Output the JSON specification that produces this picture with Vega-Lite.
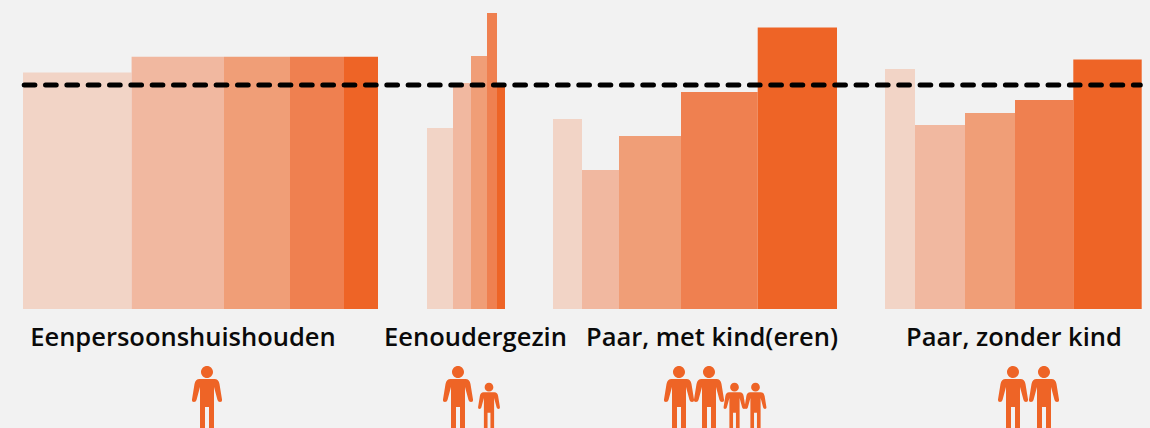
{"$schema":"https://vega.github.io/schema/vega-lite/v6.json","width":1150,"height":428,"autosize":{"type":"fit","contains":"padding"},"padding":0,"background":"#F2F2F2","config":{"view":{"stroke":null}},
"datasets":{"bars":[
{"group":"Eenpersoonshuishouden","step":1,"x0":23,"x1":131.6,"value":236.4},
{"group":"Eenpersoonshuishouden","step":2,"x0":131.6,"x1":224,"value":252.3},
{"group":"Eenpersoonshuishouden","step":3,"x0":224,"x1":290,"value":252.3},
{"group":"Eenpersoonshuishouden","step":4,"x0":290,"x1":344,"value":252.3},
{"group":"Eenpersoonshuishouden","step":5,"x0":344,"x1":378,"value":252.3},
{"group":"Eenoudergezin","step":1,"x0":427,"x1":453,"value":181},
{"group":"Eenoudergezin","step":2,"x0":453,"x1":471,"value":226},
{"group":"Eenoudergezin","step":3,"x0":471,"x1":487,"value":253},
{"group":"Eenoudergezin","step":4,"x0":487,"x1":497,"value":296},
{"group":"Eenoudergezin","step":5,"x0":497,"x1":505,"value":223},
{"group":"Paar, met kind(eren)","step":1,"x0":553,"x1":582,"value":190},
{"group":"Paar, met kind(eren)","step":2,"x0":582,"x1":619,"value":139},
{"group":"Paar, met kind(eren)","step":3,"x0":619,"x1":681,"value":173},
{"group":"Paar, met kind(eren)","step":4,"x0":681,"x1":757.7,"value":217},
{"group":"Paar, met kind(eren)","step":5,"x0":757.7,"x1":837,"value":281.4},
{"group":"Paar, zonder kind","step":1,"x0":885,"x1":915,"value":240},
{"group":"Paar, zonder kind","step":2,"x0":915,"x1":965,"value":184},
{"group":"Paar, zonder kind","step":3,"x0":965,"x1":1015,"value":196},
{"group":"Paar, zonder kind","step":4,"x0":1015,"x1":1073.3,"value":209},
{"group":"Paar, zonder kind","step":5,"x0":1073.3,"x1":1141.7,"value":249.6}],
"reference":[{"start":24.2,"end":1140.3,"level":224}],
"labels":[{"label":"Eenpersoonshuishouden","x":183},{"label":"Eenoudergezin","x":475.5},{"label":"Paar, met kind(eren)","x":712},{"label":"Paar, zonder kind","x":1014}],
"people":[{"x":207,"person":"adult"},{"x":458,"person":"adult"},{"x":489,"person":"child"},{"x":679,"person":"adult"},{"x":709,"person":"adult"},{"x":734.5,"person":"child"},{"x":755.5,"person":"child"},{"x":1013,"person":"adult"},{"x":1044,"person":"adult"}]},
"layer":[
{"data":{"name":"bars"},"mark":{"type":"rect"},"encoding":{
"x":{"field":"x0","type":"quantitative","scale":{"domain":[0,1150],"nice":false,"zero":false},"axis":null},
"x2":{"field":"x1"},
"y":{"field":"value","type":"quantitative","scale":{"domain":[-119,309],"nice":false,"zero":false},"axis":null},
"y2":{"datum":0},
"color":{"field":"step","type":"ordinal","legend":null,"scale":{"domain":[1,2,3,4,5],"range":["#F2D4C6","#F1B8A0","#F09E77","#EF8050","#EE6426"]}}}},
{"data":{"name":"reference"},"mark":{"type":"rule","stroke":"#000000","strokeWidth":5,"strokeDash":[10.7,10.63],"strokeCap":"round"},"encoding":{"x":{"field":"start","type":"quantitative"},"x2":{"field":"end"},"y":{"field":"level","type":"quantitative"}}},
{"data":{"name":"labels"},"mark":{"type":"text","font":"Open Sans","fontWeight":600,"fontSize":25.5,"color":"#0A0A0A","align":"center","baseline":"alphabetic"},"encoding":{"x":{"field":"x","type":"quantitative"},"y":{"datum":-37,"type":"quantitative"},"text":{"field":"label"}}},
{"data":{"name":"people"},"mark":{"type":"point","filled":true,"opacity":1,"color":"#EE6426","strokeWidth":0,"shape":"M6,-56A6,6 0 1 1 -6,-56A6,6 0 1 1 6,-56ZM-7.5,-49L7.5,-49Q11.5,-49 12.5,-44L15,-28.5Q15.3,-26 13,-26Q11,-26 10.5,-28L7,-41L7,0L2,0L2,-21L-2,-21L-2,0L-7,0L-7,-41L-10.5,-28Q-11,-26 -13,-26Q-15.3,-26 -15,-28.5L-12.5,-44Q-11.5,-49 -7.5,-49Z"},"encoding":{"x":{"field":"x","type":"quantitative"},"y":{"datum":-119,"type":"quantitative"},"size":{"field":"person","type":"nominal","legend":null,"scale":{"domain":["adult","child"],"range":[4,2.13]}}}}
]}
